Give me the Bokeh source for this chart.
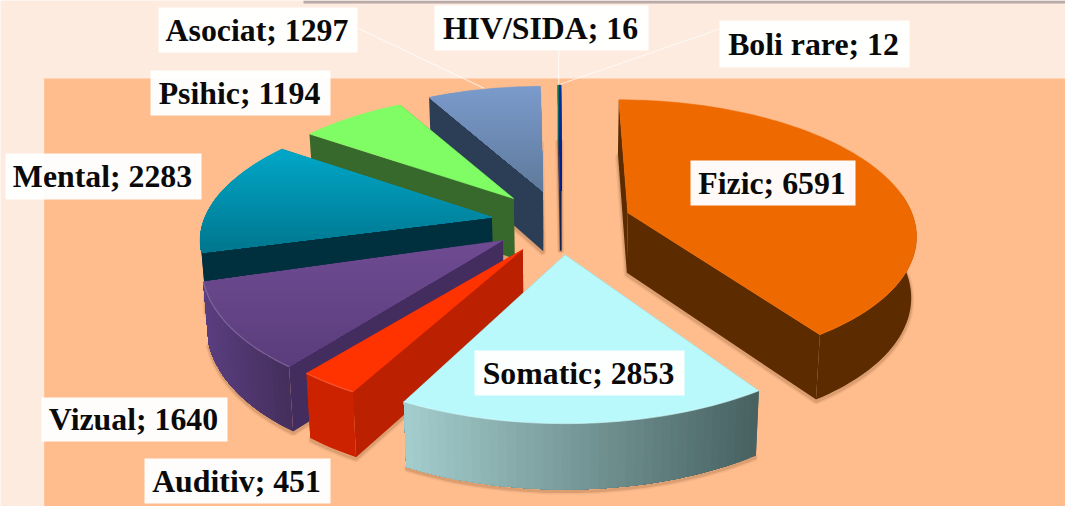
import math
from bokeh.plotting import figure
from bokeh.models import ColumnDataSource, Range1d
from bokeh.core.properties import value
from bokeh.embed import file_html
from bokeh.resources import INLINE

# ---- data ----
categories = ["Fizic", "Somatic", "Auditiv", "Vizual", "Mental", "Psihic", "Asociat", "HIV/SIDA", "Boli rare"]
counts = [6591, 2853, 451, 1640, 2283, 1194, 1297, 16, 12]

# ---- style ----
top_a = ["#ee6a00", "#baf9fb", "#ff3300", "#6f4b92", "#00a6c7", "#80fc64", "#7a9acb", "#0b7a50", "#0030a8"]
top_b = ["#ee6a00", "#baf9fb", "#ff3300", "#5a3d7c", "#00778f", "#80fc64", "#5f7a9c", "#0033aa", "#001e90"]
wall_a = ["#5c2b00", "#a3cccc", "#cc2200", "#5a3e80", "#002f3d", "#37692c", "#2f4059", "#102050", "#102050"]
wall_b = ["#5c2b00", "#4a6464", "#cc2200", "#46305f", "#002f3d", "#37692c", "#2a3b52", "#102050", "#102050"]
side = ["#5c2b00", "#4a6464", "#bb2000", "#432c5e", "#002f3d", "#37692c", "#2c3d56", "#102050", "#102050"]
draw_order = ["Fizic", "HIV/SIDA", "Boli rare", "Asociat", "Psihic", "Mental", "Vizual", "Auditiv", "Somatic"]
BG = "#fdebdf"
PANEL = "#ffbd8e"

# label boxes: left, right, top, bottom (pixels of the picture)
boxes = {
    "Asociat": (158, 357, 7, 52), "HIV/SIDA": (434, 648, 5, 50), "Boli rare": (719, 909, 20, 67),
    "Psihic": (150, 330, 70, 115), "Mental": (5, 201, 153, 199), "Fizic": (690, 855, 160, 205),
    "Somatic": (474, 684, 350, 395), "Vizual": (41, 227, 397, 441), "Auditiv": (144, 330, 458, 503),
}

# ---- projection of the exploded tilted pie ----
CX, CY = 560.5, 222.0
RX0, RY0 = 280.0, 129.0
EXPLODE = 0.25
SHRINK = 0.015
# per-slice lens: horizontal radius, vertical radius, perspective, lean towards the vanishing point
lens = {
    "Fizic": (284, 130, 0.15, -9),
    "Somatic": (312, 152, 0.10, 0),
    "Auditiv": (288, 129, 0.228, 0),
    "Vizual": (298, 148, 0.097, 19),
    "Mental": (287, 127, 0.096, 25),
    "Psihic": (280, 129, 0.228, 0),
    "Asociat": (280, 129, 0.228, 0),
    "HIV/SIDA": (280, 129, 0.228, 0),
    "Boli rare": (280, 129, 0.228, 0),
}


def proj(eu, ev, u, v, lensp, low=False):
    rx, ry, k, h = lensp
    s = 1.0 / (1.0 + k * v)
    x = RX0 * eu + rx * u * s + h * v
    y = -RY0 * ev - ry * v * s
    if low:
        x *= 1 - SHRINK
        y += 60 - 6 * v
    return CX + x, CY + y


def hex2rgb(c):
    return tuple(int(c[i:i + 2], 16) for i in (1, 3, 5))


def mix(a, b, t):
    ra, rb = hex2rgb(a), hex2rgb(b)
    return "#%02x%02x%02x" % tuple(round(ra[i] + (rb[i] - ra[i]) * t) for i in range(3))


def clip_below(poly, yc):
    out = []
    for i in range(len(poly)):
        p, q = poly[i], poly[(i + 1) % len(poly)]
        if p[1] >= yc:
            out.append(p)
        if (p[1] >= yc) != (q[1] >= yc):
            t = (yc - p[1]) / (q[1] - p[1])
            out.append((p[0] + (q[0] - p[0]) * t, yc))
    return out


xs, ys, fills, lines, falpha, lalpha, lwidth = [], [], [], [], [], [], []


def add(poly, fill, line=None, fa=1.0, la=0.0, lw=0.0):
    xs.append([p[0] for p in poly])
    ys.append([p[1] for p in poly])
    fills.append(fill)
    lines.append(line or fill)
    falpha.append(fa)
    lalpha.append(la)
    lwidth.append(lw)


total = sum(counts)
spans = {}
a = 0.0
for name, c in zip(categories, counts):
    d = 360.0 * c / total
    spans[name] = (a, a + d)
    a += d

arc_mid = {}
for name in draw_order:
    i = categories.index(name)
    t0, t1 = spans[name]
    L = lens[name]
    mid = math.radians((t0 + t1) / 2)
    eu, ev = EXPLODE * math.sin(mid), EXPLODE * math.cos(mid)
    n = max(2, int((t1 - t0) / 1.5))
    angs = [math.radians(t0 + (t1 - t0) * j / n) for j in range(n + 1)]
    up = [proj(eu, ev, math.sin(t), math.cos(t), L) for t in angs]
    lo = [proj(eu, ev, math.sin(t), math.cos(t), L, True) for t in angs]
    apex, apex_lo = proj(eu, ev, 0, 0, L), proj(eu, ev, 0, 0, L, True)
    arc_mid[name] = proj(eu, ev, math.sin(mid), math.cos(mid), L)
    thin = t1 - t0 < 2

    # soft shadow round the foot of the slice
    foot = [(x, y + 2) for x, y in [apex_lo] + lo]
    add(foot, "#a06a40", "#a06a40", 0.0, 0.13, 6)
    add(foot, "#8a5630", "#8a5630", 0.0, 0.22, 3)

    # radial walls, the one further away first
    def radial(k):
        add([apex, up[k], lo[k], apex_lo], side[i], side[i], 1.0, 1.0 if thin else 0.0, 0.6 if thin else 0.0)
    if math.degrees(mid) > 180:
        radial(-1); radial(0)
    else:
        radial(0); radial(-1)

    # outer wall: only the part that faces the viewer, graded from left to right
    vis = [j for j in range(n) if math.cos(angs[j]) < 0.15 and math.cos(angs[j + 1]) < 0.15]
    if vis:
        xmin = min(up[j][0] for j in vis)
        xmax = max(up[j + 1][0] for j in vis) if len(vis) else xmin + 1
        for q in range(len(vis)):
            rest = vis[q:]
            poly = [up[j] for j in rest] + [up[rest[-1] + 1]] + [lo[rest[-1] + 1]] + [lo[j] for j in reversed(rest)]
            add(poly, mix(wall_a[i], wall_b[i], (up[vis[q]][0] - xmin) / max(1e-6, xmax - xmin)))
            if wall_a[i] == wall_b[i]:
                break

    # top face, graded from top to bottom
    face = [apex] + up
    y0, y1 = min(p[1] for p in face), max(p[1] for p in face)
    if top_a[i] == top_b[i]:
        add(face, top_a[i], top_a[i], 1.0, 1.0, 0.5)
    else:
        bands = 28
        for b in range(bands):
            yc = y0 + (y1 - y0) * b / bands
            part = clip_below(face, yc) if b else face
            if len(part) > 2:
                col = mix(top_a[i], top_b[i], b / (bands - 1))
                add(part, col, col, 1.0, 1.0 if thin or b == 0 else 0.0, 0.5)
    # bevel highlight on the rim
    if name in ("Vizual", "Auditiv", "Somatic"):
        add(up + up[::-1], "#ffffff", "#ffffff", 0.0, 0.18, 1.3)

source = ColumnDataSource(dict(xs=xs, ys=ys, fill=fills, line=lines, fa=falpha, la=lalpha, lw=lwidth))

p = figure(width=1065, height=506, output_backend="svg", toolbar_location=None,
           x_range=Range1d(0, 1065), y_range=Range1d(506, 0),
           min_border=0, background_fill_color=BG, border_fill_color=BG)
p.axis.visible = False
p.grid.visible = False
p.outline_line_color = None

# background panel and the strip along the top edge
p.quad(left=[43.7], right=[1065], top=[78], bottom=[506], fill_color=PANEL, line_color=None)
p.quad(left=[303], right=[1065], top=[0], bottom=[3], fill_color="#b9aaa8", line_color=None)

# leader lines
lead_x, lead_y = [], []
for name, (l, r, t, b) in boxes.items():
    if name in ("Asociat", "HIV/SIDA", "Boli rare"):
        ax, ay = arc_mid[name]
        if name == "Asociat":
            sx, sy = r, (t + b) / 2 - 2
        elif name == "HIV/SIDA":
            sx, sy = ax, b
        else:
            sx, sy = l, (t + b) / 2 - 15
        lead_x.append([sx, ax]); lead_y.append([sy, ay - 1])
p.multi_line(lead_x, lead_y, line_color="#ffffff", line_alpha=0.65, line_width=1.2)

p.patches("xs", "ys", source=source, fill_color="fill", line_color="line",
          fill_alpha="fa", line_alpha="la", line_width="lw")

# labels
names = list(boxes)
p.quad(left=[boxes[n][0] for n in names], right=[boxes[n][1] for n in names],
       top=[boxes[n][2] for n in names], bottom=[boxes[n][3] for n in names],
       fill_color="#ffffff", fill_alpha=0.97, line_color=None)
p.text(x=[(boxes[n][0] + boxes[n][1]) / 2 - 1 for n in names],
       y=[(boxes[n][2] + boxes[n][3]) / 2 for n in names],
       text=[f"{n}; {counts[categories.index(n)]}" for n in names],
       text_font=value("Liberation Serif"), text_font_style="bold", text_font_size="31.8px",
       text_align="center", text_baseline="middle", text_color="#0a0a0a")

open("out.html", "w").write(file_html(p, INLINE))
